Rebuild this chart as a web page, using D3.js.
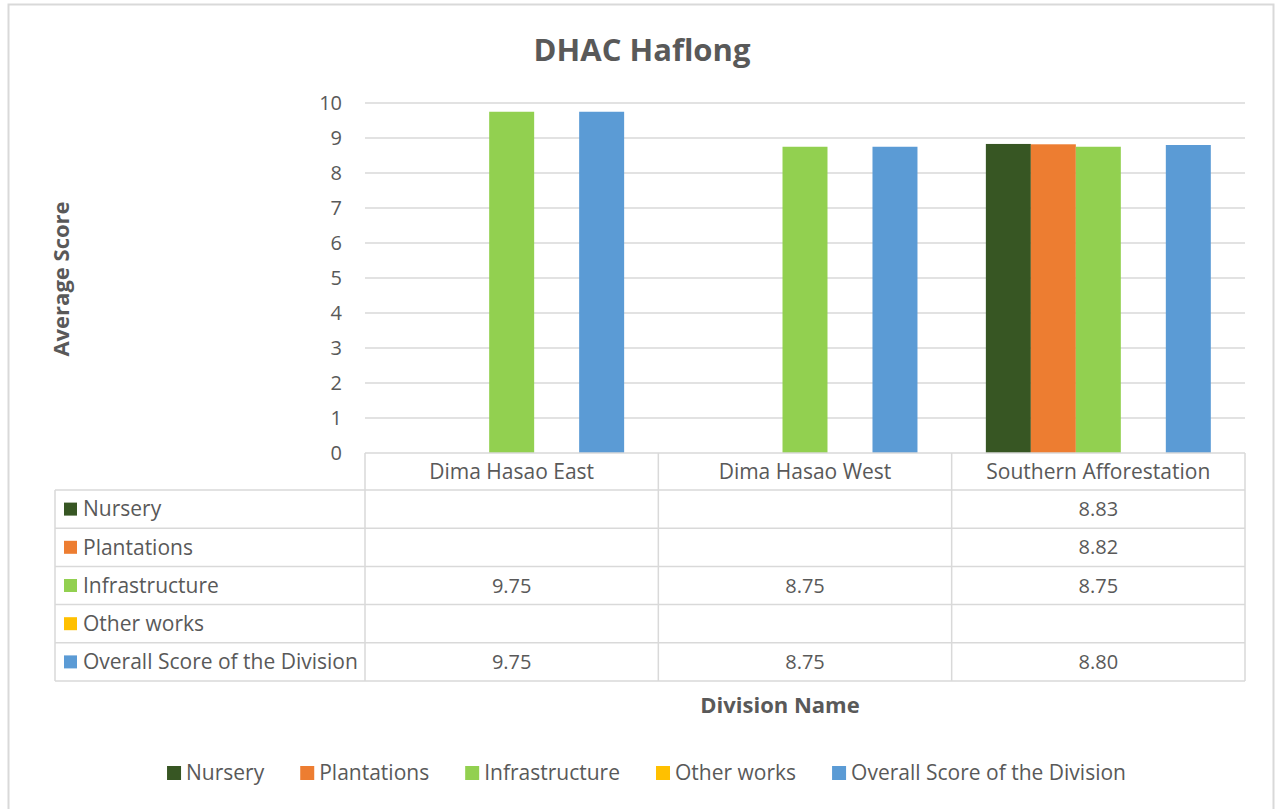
<!DOCTYPE html>
<html>
<head>
<meta charset="utf-8">
<script src="https://cdn.jsdelivr.net/npm/d3@7"></script>
<style>
  body { margin: 0; background: #fff; }
  text { font-family: "Open Sans", sans-serif; fill: #595959; }
</style>
</head>
<body>
<div id="chart"></div>
<script>
// Data
const divisions = ["Dima Hasao East", "Dima Hasao West", "Southern Afforestation"];
const seriesNames = ["Nursery", "Plantations", "Infrastructure", "Other works", "Overall Score of the Division"];
const seriesColors = ["#375623", "#ED7D31", "#92D050", "#FFC000", "#5B9BD5"];
const nursery = [null, null, 8.83];
const plantations = [null, null, 8.82];
const infrastructure = [9.75, 8.75, 8.75];
const otherWorks = [null, null, null];
const overall = [9.75, 8.75, 8.80];
const yTicks = [0, 1, 2, 3, 4, 5, 6, 7, 8, 9, 10];

const seriesValues = [nursery, plantations, infrastructure, otherWorks, overall];

const W = 1275, H = 809;
const plot = {left: 365, right: 1245, top: 103, bottom: 453};
const tableLeft = 55, catRowH = 37, rowH = 38.2;

const svg = d3.select("#chart").append("svg")
    .attr("width", W).attr("height", H);

// Outer chart border
svg.append("rect")
    .attr("x", 8.5).attr("y", 4.5)
    .attr("width", 1265).attr("height", 820)
    .attr("fill", "none").attr("stroke", "#d9d9d9").attr("stroke-width", 2);

// Scales
const x0 = d3.scaleBand().domain(divisions).range([plot.left, plot.right]);
const x1 = d3.scaleBand().domain(seriesNames).range([0, x0.bandwidth()]).paddingOuter(0.76);
const y = d3.scaleLinear().domain([0, 10]).range([plot.bottom, plot.top]);

// Gridlines
svg.append("g").selectAll("line")
  .data(yTicks.filter(t => t > 0))
  .join("line")
    .attr("x1", plot.left).attr("x2", plot.right)
    .attr("y1", d => y(d)).attr("y2", d => y(d))
    .attr("stroke", "#d9d9d9").attr("stroke-width", 1.5);

// Y axis tick labels
svg.append("g").selectAll("text")
  .data(yTicks)
  .join("text")
    .attr("x", 342).attr("y", d => y(d))
    .attr("dy", "0.35em")
    .attr("text-anchor", "end")
    .style("font-size", "20px")
    .text(d => d);

// Bars
const groups = svg.append("g").selectAll("g")
  .data(divisions)
  .join("g")
    .attr("transform", d => `translate(${x0(d)},0)`);

groups.selectAll("rect")
  .data((d, i) => seriesNames.map((s, j) => ({s, j, v: seriesValues[j][i]})).filter(e => e.v != null))
  .join("rect")
    .attr("x", d => x1(d.s))
    .attr("width", x1.bandwidth())
    .attr("y", d => y(d.v))
    .attr("height", d => y(0) - y(d.v))
    .attr("fill", d => seriesColors[d.j]);

// Data table
const tbl = svg.append("g").attr("stroke", "#d9d9d9").attr("stroke-width", 1.5);
const tableTop = plot.bottom + catRowH;
const tableBottom = tableTop + rowH * seriesNames.length;
// axis line / category row top
tbl.append("line").attr("x1", plot.left).attr("x2", plot.right).attr("y1", plot.bottom).attr("y2", plot.bottom);
// horizontal row lines
for (let r = 0; r <= seriesNames.length; r++) {
  const yy = tableTop + r * rowH;
  tbl.append("line").attr("x1", tableLeft).attr("x2", plot.right).attr("y1", yy).attr("y2", yy);
}
// vertical lines
tbl.append("line").attr("x1", tableLeft).attr("x2", tableLeft).attr("y1", tableTop).attr("y2", tableBottom);
[plot.left, ...divisions.map(d => x0(d) + x0.bandwidth())].forEach(xx => {
  tbl.append("line").attr("x1", xx).attr("x2", xx).attr("y1", plot.bottom).attr("y2", tableBottom);
});

// Category labels
svg.append("g").selectAll("text")
  .data(divisions)
  .join("text")
    .attr("x", d => x0(d) + x0.bandwidth() / 2)
    .attr("y", plot.bottom + catRowH / 2)
    .attr("dy", "0.35em")
    .attr("text-anchor", "middle")
    .style("font-size", "21px")
    .text(d => d);

// Row headers with swatches
const rows = svg.append("g").selectAll("g")
  .data(seriesNames)
  .join("g")
    .attr("transform", (d, i) => `translate(0,${tableTop + i * rowH + rowH / 2})`);
rows.append("rect")
    .attr("x", 64).attr("y", -6.5).attr("width", 13).attr("height", 13)
    .attr("fill", (d, i) => seriesColors[i]);
rows.append("text")
    .attr("x", 83).attr("dy", "0.35em")
    .style("font-size", "21px")
    .text(d => d);

// Row values
rows.each(function(s, j) {
  d3.select(this).selectAll("text.val")
    .data(divisions.map((d, i) => ({d, v: seriesValues[j][i]})).filter(e => e.v != null))
    .join("text")
      .attr("class", "val")
      .attr("x", e => x0(e.d) + x0.bandwidth() / 2)
      .attr("dy", "0.35em")
      .attr("text-anchor", "middle")
      .style("font-size", "20px")
      .text(e => e.v.toFixed(2));
});

// Title
svg.append("text")
    .attr("x", 642).attr("y", 61)
    .attr("text-anchor", "middle")
    .style("font-size", "31px").style("font-weight", "bold")
    .text("DHAC Haflong");

// Axis titles
svg.append("text")
    .attr("transform", "translate(69,279) rotate(-90)")
    .attr("text-anchor", "middle")
    .style("font-size", "22px").style("font-weight", "bold")
    .text("Average Score");

svg.append("text")
    .attr("x", 780).attr("y", 713)
    .attr("text-anchor", "middle")
    .style("font-size", "22px").style("font-weight", "bold")
    .text("Division Name");

// Bottom legend
const legend = svg.append("g");
let lx = 0;
seriesNames.forEach((s, i) => {
  const item = legend.append("g").attr("transform", `translate(${lx},0)`);
  item.append("rect").attr("x", 0).attr("y", -7).attr("width", 14).attr("height", 14).attr("fill", seriesColors[i]);
  const t = item.append("text").attr("x", 19).attr("dy", "0.35em").style("font-size", "21px").text(s);
  lx += 19 + t.node().getComputedTextLength() + 36;
});
const legendW = lx - 36;
legend.attr("transform", `translate(${(169 + 1124) / 2 - legendW / 2},773)`);
</script>
</body>
</html>
